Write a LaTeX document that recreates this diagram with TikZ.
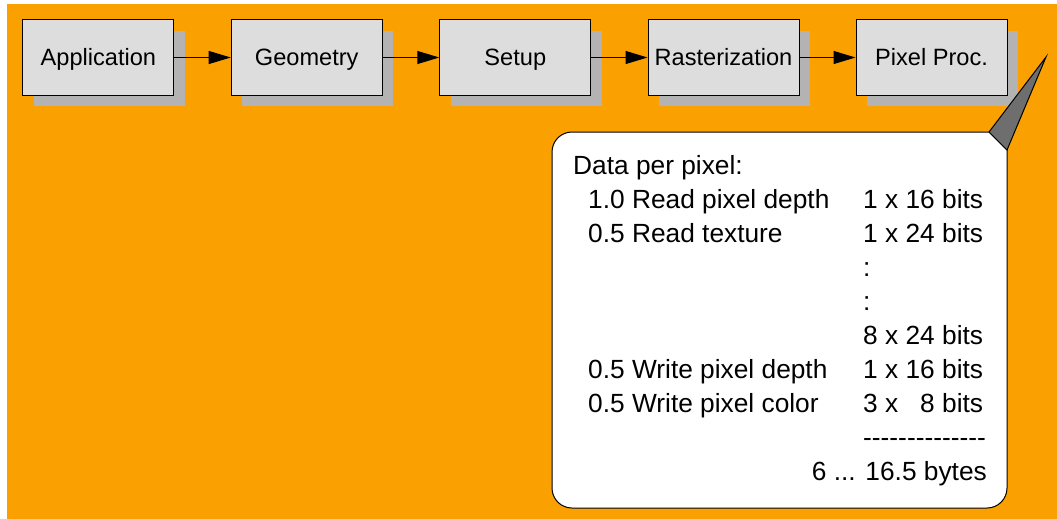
\documentclass[tikz,border=0pt]{standalone}
\usepackage{fontspec}
\setmainfont{Liberation Sans}
\usetikzlibrary{arrows.meta,shadows}
\definecolor{bgorange}{RGB}{250,160,0}
\definecolor{boxgray}{RGB}{221,221,221}
\definecolor{shadowgray}{RGB}{179,179,179}
\definecolor{pointergray}{RGB}{110,110,110}
\newcommand{\hy}{\mbox{-}}
\begin{document}
\begin{tikzpicture}[x=1pt,y=-1pt,
  stage/.style={draw=black, line width=1pt, fill=boxgray,
    minimum width=151pt, minimum height=75pt, inner sep=0pt,
    font=\fontsize{23.6}{28}\selectfont, text height=17pt, text depth=0pt,
    general shadow={fill=shadowgray, shadow xshift=11pt, shadow yshift=-11pt}},
  flow/.style={line width=1pt, -{Triangle[length=22pt,width=13pt]}},
  note/.style={anchor=base west, inner sep=0pt, font=\fontsize{26.3}{34}\selectfont},
  noter/.style={anchor=base east, inner sep=0pt, font=\fontsize{26.3}{34}\selectfont}]
\useasboundingbox (0,0) rectangle (1057,519);
\fill[bgorange] (7,4) rectangle (1057,519);

% pipeline stages
\node[stage] (app)  at (98.4,57.5)  {Application};
\node[stage] (geo)  at (306.7,57.5) {Geometry};
\node[stage] (set)  at (515.3,57.5) {Setup};
\node[stage] (ras)  at (723.5,57.5) {Rasterization};
\node[stage] (pix)  at (931.5,57.5) {Pixel Proc.};

\draw[flow] (app) -- (geo);
\draw[flow] (geo) -- (set);
\draw[flow] (set) -- (ras);
\draw[flow] (ras) -- (pix);

% speech bubble with the per-pixel data budget
\draw[line width=1pt, fill=white] (989,132) -- (572,132)
  arc[start angle=270, end angle=180, radius=20] -- (552,488)
  arc[start angle=180, end angle=90, radius=20] -- (987,508)
  arc[start angle=90, end angle=0, radius=20] -- (1007,150) -- cycle;
\coordinate (tip) at (1046,57);
\draw[line width=1pt, fill=pointergray, line join=miter] (989,132) -- (tip) -- (1007,150) -- cycle;

\node[note] (t0) at (573,174) {Data per pixel:};
\node[note] (t1) at (588,208) {1.0 Read pixel depth};
\node[note] (t2) at (588,242) {0.5 Read texture};
\node[note] (t3) at (588,378) {0.5 Write pixel depth};
\node[note] (t4) at (588,412) {0.5 Write pixel color};

\node[note] (r1) at (863,208) {1 x 16 bits};
\node[note] (r2) at (863,242) {1 x 24 bits};
\node[note] (c1) at (863,276) {:};
\node[note] (c2) at (863,310) {:};
\node[note] (r3) at (863,344) {8 x 24 bits};
\node[note] (r4) at (863,378) {1 x 16 bits};
\node[note] (r5) at (863,412) {3 x \phantom{1}8 bits};
\node[note] (r6) at (863,446) {\hy\hy\hy\hy\hy\hy\hy\hy\hy\hy\hy\hy\hy\hy};
\node[noter] (r7) at (987,480) {6 ... 16.5 bytes};
\end{tikzpicture}
\end{document}
